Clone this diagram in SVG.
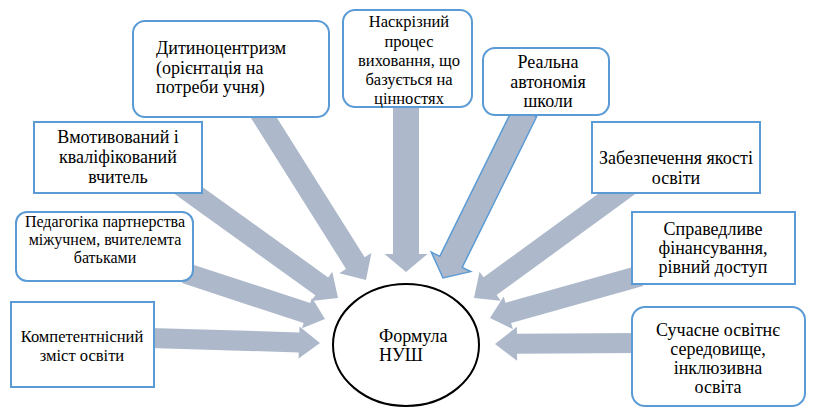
<svg xmlns="http://www.w3.org/2000/svg" width="814" height="419" viewBox="0 0 814 419">
<style>
.arrow{fill:#ADB9CA;stroke:none}
.arrow.outlined{stroke:#5B9BD5;stroke-width:1.5;stroke-linejoin:miter}
.box{fill:#FFFFFF;stroke:#5B9BD5;stroke-width:2}
.ell{fill:#FFFFFF;stroke:#000000;stroke-width:2}
text{fill:#000000;font-size:18px;font-family:'Liberation Serif','Times New Roman',Tinos,'DejaVu Serif','Noto Serif',FreeSerif,serif}
.c{text-anchor:middle}
.s{font-size:16.5px}
.p{font-size:16px}
</style>
<rect width="814" height="419" fill="#FFFFFF"/>
<g id="connectors">
<polygon class="arrow" points="-170,-10 -21,-10 -21,-16 0,0 -21,16 -21,10 -170,10" transform="translate(320,343) rotate(1.68)"/>
<polygon class="arrow" points="-147,-10.5 -19,-10.5 -19,-16 0,0 -19,16 -19,10.5 -147,10.5" transform="translate(325,319) rotate(18.19)"/>
<polygon class="arrow" points="-198,-11 -20,-11 -20,-18 0,0 -20,18 -20,11 -198,11" transform="translate(338,298) rotate(35.71)"/>
<polygon class="arrow" points="-201,-11 -20,-11 -20,-19 0,0 -20,19 -20,11 -201,11" transform="translate(366,280) rotate(57.81)"/>
<polygon class="arrow" points="-172,-13 -18,-13 -18,-21.5 0,0 -18,21.5 -18,13 -172,13" transform="translate(406,272) rotate(90)"/>
<polygon class="arrow outlined" points="-186,-12.5 -18,-12.5 -18,-22 0,0 -18,22 -18,12.5 -186,12.5" transform="translate(443,278) rotate(116.3)"/>
<polygon class="arrow" points="-195,-11 -20,-11 -20,-18 0,0 -20,18 -20,11 -195,11" transform="translate(474,298) rotate(143.88)"/>
<polygon class="arrow" points="-156,-10.5 -19,-10.5 -19,-17 0,0 -19,17 -19,10.5 -156,10.5" transform="translate(490,318) rotate(164.36)"/>
<polygon class="arrow" points="-145,-10 -22,-10 -22,-17 0,0 -22,17 -22,10 -145,10" transform="translate(495,344) rotate(179.6)"/>
</g>
<g id="node-dytynocentryzm">
<rect class="box" x="133" y="21" width="196" height="96" rx="12"/>
<text x="156" y="54">Дитиноцентризм</text>
<text x="156" y="74">(орієнтація на</text>
<text x="156" y="93">потреби учня)</text>
</g>
<g id="node-naskriznyi">
<rect class="box" x="343" y="10" width="129" height="97" rx="12"/>
<text class="c s" x="409" y="27">Наскрізний</text>
<text class="c s" x="409" y="47">процес</text>
<text class="c s" x="409" y="66">виховання, що</text>
<text class="c s" x="409" y="85">базується на</text>
<text class="c s" x="409" y="104">цінностях</text>
</g>
<g id="node-avtonomiia">
<rect class="box" x="483" y="48" width="126" height="67" rx="12"/>
<text class="c" x="548" y="68">Реальна</text>
<text class="c" x="548" y="88">автономія</text>
<text class="c" x="548" y="107">школи</text>
</g>
<g id="node-vchytel">
<rect class="box" x="34" y="122" width="168" height="71"/>
<text class="c" x="118" y="143">Вмотивований і</text>
<text class="c" x="118" y="163">кваліфікований</text>
<text class="c" x="118" y="183">вчитель</text>
</g>
<g id="node-pedahohika">
<rect class="box" x="16" y="212" width="177" height="69" rx="11"/>
<text class="c p" x="105" y="227">Педагогіка партнерства</text>
<text class="c p" x="105" y="245">міжучнем, вчителемта</text>
<text class="c p" x="105" y="263">батьками</text>
</g>
<g id="node-zmist">
<rect class="box" x="11" y="302" width="143" height="85"/>
<text class="c s" x="82" y="342">Компетентнісний</text>
<text class="c s" x="82" y="361">зміст освіти</text>
</g>
<g id="node-yakist">
<rect class="box" x="592" y="122" width="168" height="71"/>
<text class="c" x="676" y="164">Забезпечення якості</text>
<text class="c" x="676" y="184">освіти</text>
</g>
<g id="node-finansuvannia">
<rect class="box" x="632" y="212" width="163" height="72"/>
<text class="c" x="713" y="235">Справедливе</text>
<text class="c" x="713" y="254">фінансування,</text>
<text class="c" x="713" y="273">рівний доступ</text>
</g>
<g id="node-seredovyshche">
<rect class="box" x="632" y="307" width="173" height="99" rx="13"/>
<text class="c" x="718" y="336">Сучасне освітнє</text>
<text class="c" x="718" y="355">середовище,</text>
<text class="c" x="718" y="374">інклюзивна</text>
<text class="c" x="718" y="393">освіта</text>
</g>
<g id="node-formula">
<ellipse class="ell" cx="406" cy="345" rx="73" ry="61"/>
<text x="379" y="342">Формула</text>
<text x="379" y="361">НУШ</text>
</g>
</svg>
